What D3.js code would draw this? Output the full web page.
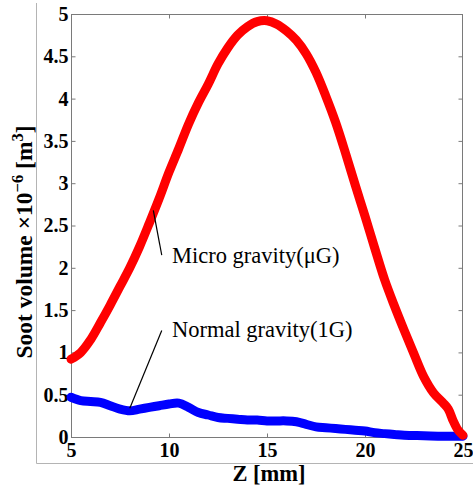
<!DOCTYPE html>
<html>
<head>
<meta charset="utf-8">
<script src="https://cdn.jsdelivr.net/npm/d3@7"></script>
<style>
  html, body { margin: 0; padding: 0; background: #fff; }
  svg { display: block; }
  text { font-family: "Liberation Serif", "Times New Roman", serif; }
</style>
</head>
<body>
<svg id="chart" width="473" height="492"></svg>
<script>
// Axial position Z [mm]
const zMicro = [5, 5.5, 6, 6.5, 7, 7.5, 8, 8.5, 9, 9.5, 10, 10.5, 11, 11.5, 12, 12.5, 13, 13.5, 14, 14.5,
  15, 15.5, 16, 16.5, 17, 17.5, 18, 18.5, 19, 19.5, 20, 20.5, 21, 21.5, 22, 22.5, 23, 23.5, 24, 24.25, 24.5, 24.75, 25];
// Soot volume in micro gravity (×10^-6 m^3)
const vMicro = [0.92, 1.00, 1.15, 1.35, 1.56, 1.78, 2.00, 2.25, 2.53, 2.82, 3.13, 3.41, 3.70, 3.95, 4.17, 4.41, 4.60, 4.75, 4.85, 4.91,
  4.92, 4.88, 4.80, 4.69, 4.53, 4.31, 4.03, 3.72, 3.36, 2.98, 2.61, 2.23, 1.86, 1.55, 1.26, 0.98, 0.71, 0.52, 0.40, 0.33, 0.19, 0.08, 0.02];

const zNormal = [5, 5.5, 6, 6.5, 7, 7.5, 8, 8.5, 9, 9.5, 10, 10.5, 11, 11.5, 12, 12.5, 13, 13.5, 14, 14.5,
  15, 15.5, 16, 16.5, 17, 17.5, 18, 18.5, 19, 19.5, 20, 20.5, 21, 21.5, 22, 23, 24, 25];
// Soot volume in normal gravity (×10^-6 m^3)
const vNormal = [0.47, 0.43, 0.42, 0.41, 0.37, 0.33, 0.31, 0.33, 0.35, 0.37, 0.39, 0.40, 0.35, 0.29, 0.26, 0.23, 0.22, 0.21, 0.20, 0.20,
  0.19, 0.19, 0.19, 0.18, 0.15, 0.12, 0.11, 0.10, 0.09, 0.08, 0.07, 0.05, 0.04, 0.03, 0.02, 0.015, 0.01, 0.01];

const xTicks = [5, 10, 15, 20, 25];
const yTicks = [0, 0.5, 1, 1.5, 2, 2.5, 3, 3.5, 4, 4.5, 5];

// Callout lines: [z0, v0, z1, v1] and label anchor [z, v]
const microCallout = [9.2, 2.68, 9.63, 2.15];
const normalCallout = [8.0, 0.34, 9.63, 1.26];
const microLabel = { z: 10.15, v: 2.06, text: "Micro gravity(μG)" };
const normalLabel = { z: 10.15, v: 1.18, text: "Normal gravity(1G)" };

const svg = d3.select("#chart");
const L = 71, R = 463, T = 14, B = 437;

const x = d3.scaleLinear().domain([5, 25]).range([L, R]);
const y = d3.scaleLinear().domain([0, 5]).range([B, T]);

// Figure frame (left and bottom)
svg.append("path")
  .attr("d", `M36.5,3 V463.5 H473`)
  .attr("fill", "none").attr("stroke", "#b4b4b4").attr("stroke-width", 1);

// Plot box
svg.append("rect")
  .attr("x", L + 0.5).attr("y", T + 0.5)
  .attr("width", R - L - 1).attr("height", B - T)
  .attr("fill", "none").attr("stroke", "#7a7a7a").attr("stroke-width", 1);

const axisColor = "#7a7a7a";
function styleAxis(g) {
  g.select(".domain").remove();
  g.selectAll(".tick line").attr("stroke", axisColor);
}

// Bottom axis with labels
svg.append("g").attr("transform", `translate(0,${B + 0.5})`)
  .call(d3.axisBottom(x).tickValues(xTicks).tickSize(-4).tickPadding(5).tickFormat(d3.format("d")))
  .call(styleAxis)
  .call(g => g.selectAll(".tick text")
    .attr("font-family", "Liberation Serif").attr("font-weight", "bold").attr("font-size", 20)
    .attr("fill", "#000"));
// Top axis ticks
svg.append("g").attr("transform", `translate(0,${T + 0.5})`)
  .call(d3.axisTop(x).tickValues(xTicks.slice(1, -1)).tickSize(-4).tickFormat(""))
  .call(styleAxis);

// Left axis with labels
svg.append("g").attr("transform", `translate(${L + 0.5},0)`)
  .call(d3.axisLeft(y).tickValues(yTicks).tickSize(-4).tickPadding(3).tickFormat(d => d3.format("")(d)))
  .call(styleAxis)
  .call(g => g.selectAll(".tick text")
    .attr("font-family", "Liberation Serif").attr("font-weight", "bold").attr("font-size", 20)
    .attr("fill", "#000"));
// Right axis ticks
svg.append("g").attr("transform", `translate(${R - 0.5},0)`)
  .call(d3.axisRight(y).tickValues(yTicks.slice(1, -1)).tickSize(-4).tickFormat(""))
  .call(styleAxis);

// Data lines
const line = d3.line().x(d => x(d[0])).y(d => y(d[1])).curve(d3.curveCatmullRom.alpha(0.5));

svg.append("path")
  .datum(zNormal.map((z, i) => [z, vNormal[i]]))
  .attr("d", line)
  .attr("fill", "none").attr("stroke", "#0000ff").attr("stroke-width", 9)
  .attr("stroke-linejoin", "round").attr("stroke-linecap", "round");

svg.append("path")
  .datum(zMicro.map((z, i) => [z, vMicro[i]]))
  .attr("d", line)
  .attr("fill", "none").attr("stroke", "#ff0000").attr("stroke-width", 9)
  .attr("stroke-linejoin", "round").attr("stroke-linecap", "round");

// Callouts
[microCallout, normalCallout].forEach(c => {
  svg.append("line")
    .attr("x1", x(c[0])).attr("y1", y(c[1]))
    .attr("x2", x(c[2])).attr("y2", y(c[3]))
    .attr("stroke", "#000").attr("stroke-width", 1.2);
});
[microLabel, normalLabel].forEach(l => {
  svg.append("text")
    .attr("x", x(l.z)).attr("y", y(l.v))
    .attr("font-size", 22.5).attr("fill", "#000")
    .text(l.text);
});

// X axis title
svg.append("text")
  .attr("x", (L + R) / 2 + 2).attr("y", 481)
  .attr("text-anchor", "middle")
  .attr("font-weight", "bold").attr("font-size", 22.5)
  .text("Z [mm]");

// Y axis title
const yt = svg.append("text")
  .attr("transform", `translate(32,242) rotate(-90)`)
  .attr("text-anchor", "middle")
  .attr("font-weight", "bold").attr("font-size", 23.5);
yt.append("tspan").text("Soot volume ×10");
yt.append("tspan").attr("dy", -9).attr("font-size", 16.5).text("−6");
yt.append("tspan").attr("dy", 9).text(" [m");
yt.append("tspan").attr("dy", -9).attr("font-size", 16.5).text("3");
yt.append("tspan").attr("dy", 9).text("]");
</script>
</body>
</html>
